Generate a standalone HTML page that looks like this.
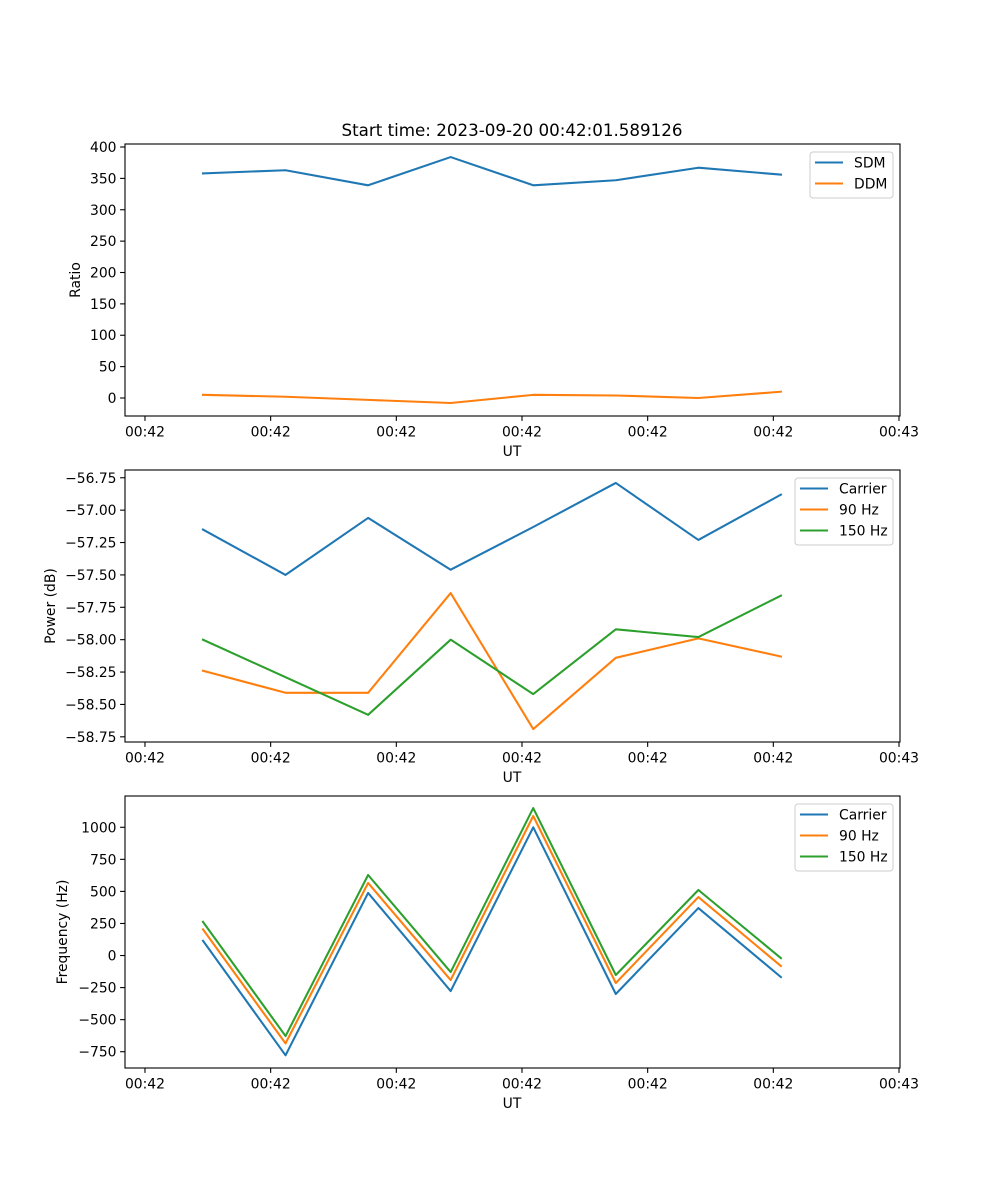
<!DOCTYPE html>
<html><head><meta charset="utf-8"><style>
html,body{margin:0;padding:0;background:#fff}
svg{display:block;font-family:"DejaVu Sans","Liberation Sans",sans-serif}
</style></head><body>
<svg id="fig" width="1000" height="1200" viewBox="0 0 1000 1200">
<rect width="1000" height="1200" fill="#fff"/>
<text x="512" y="136" font-size="16.7" text-anchor="middle" fill="#000">Start time: 2023-09-20 00:42:01.589126</text>
</svg>
<script>
// shared x data (tick units)
const times = [0.4615, 1.1185, 1.7755, 2.4325, 3.0895, 3.7465, 4.4035, 5.0605];
const xTicks = [0, 1, 2, 3, 4, 5, 6];
const xTickLabels = ["00:42","00:42","00:42","00:42","00:42","00:42","00:43"];
// panel 1
const sdm = [358, 363, 339, 384, 339, 347, 367, 356];
const ddm = [5, 2, -3, -8, 5, 4, 0, 10];
const ratioTicks = [0, 50, 100, 150, 200, 250, 300, 350, 400];
// panel 2
const powCarrier = [-57.15, -57.5, -57.06, -57.46, -57.13, -56.79, -57.23, -56.88];
const pow90 = [-58.24, -58.41, -58.41, -57.64, -58.69, -58.14, -57.99, -58.13];
const pow150 = [-58.0, -58.29, -58.58, -58.0, -58.42, -57.92, -57.98, -57.66];
const powTicks = [-58.75, -58.5, -58.25, -58.0, -57.75, -57.5, -57.25, -57.0, -56.75];
const powTickLabels = ["\u221258.75","\u221258.50","\u221258.25","\u221258.00","\u221257.75","\u221257.50","\u221257.25","\u221257.00","\u221256.75"];
// panel 3
const freqCarrier = [115, -778, 488, -277, 1000, -300, 370, -168];
const freq90 = [204, -685, 566, -191, 1088, -214, 456, -82];
const freq150 = [263, -628, 628, -129, 1150, -152, 511, -20];
const freqTicks = [-750, -500, -250, 0, 250, 500, 750, 1000];

const NS = "http://www.w3.org/2000/svg";
const svg = document.getElementById("fig");
const C = {blue:"#1f77b4", orange:"#ff7f0e", green:"#2ca02c"};
const FS = 13.9;
const X0 = 125, X1 = 900, xMin = -0.159, xMax = 6.008;
function xs(v){ return X0 + (v - xMin) / (xMax - xMin) * (X1 - X0); }
function mk(tag, attrs, parent){
  const e = document.createElementNS(NS, tag);
  for (const k in attrs) e.setAttribute(k, attrs[k]);
  (parent || svg).appendChild(e);
  return e;
}
function fmt(v){ return v < 0 ? "\u2212" + Math.abs(v) : String(v); }

function panel(name, top, bottom, yMin, yMax, yTicks, yLabels, ylabel, ylabelX, series, legend){
  const g = mk("g", {});
  
  
  const ys = v => bottom - (v - yMin) / (yMax - yMin) * (bottom - top);
  const cp = mk("clipPath", {id: "clip-" + name}, g);
  mk("rect", {x: X0, y: top, width: X1 - X0, height: bottom - top}, cp);
  const lines = mk("g", {"clip-path": "url(#clip-" + name + ")"}, g);
  series.forEach(s => {
    const p = mk("polyline", {points: times.map((t, i) => xs(t).toFixed(2) + "," + ys(s.vals[i]).toFixed(2)).join(" "), fill: "none", stroke: s.color, "stroke-width": 2.08, "stroke-linejoin": "round", "stroke-linecap": "square"}, lines);
    
    
  });
  const frame = mk("rect", {x: X0, y: top, width: X1 - X0, height: bottom - top, fill: "none", stroke: "#000", "stroke-width": 1.1}, g);
  
  
  xTicks.forEach((t, i) => {
    const x = xs(t);
    mk("line", {x1: x, x2: x, y1: bottom, y2: bottom + 4.9, stroke: "#000", "stroke-width": 1.1}, g);
    const tx = mk("text", {x: x, y: bottom + 20.5, "font-size": FS, "text-anchor": "middle"}, g);
    tx.textContent = xTickLabels[i];
    
    
  });
  yTicks.forEach((t, i) => {
    const y = ys(t);
    mk("line", {x1: X0, x2: X0 - 4.9, y1: y, y2: y, stroke: "#000", "stroke-width": 1.1}, g);
    const tx = mk("text", {x: X0 - 8.5, y: y + 5, "font-size": FS, "text-anchor": "end"}, g);
    tx.textContent = yLabels ? yLabels[i] : fmt(t);
    
    
  });
  const xl = mk("text", {x: 512, y: bottom + 40, "font-size": FS, "text-anchor": "middle"}, g);
  xl.textContent = "UT";
  
  
  const cy = (top + bottom) / 2;
  const yl = mk("text", {x: ylabelX, y: cy, "font-size": FS, "text-anchor": "middle", transform: "rotate(-90 " + ylabelX + " " + cy + ")"}, g);
  yl.textContent = ylabel;
  
  
  const lg = mk("g", {}, g);
  
  
  mk("rect", {x: legend.x, y: top + 8, width: X1 - 7 - legend.x, height: series.length * 21 + 4, rx: 3, fill: "#fff", "fill-opacity": 0.8, stroke: "#ccc", "stroke-width": 1}, lg);
  series.forEach((s, i) => {
    const yy = top + 18.5 + i * 21;
    mk("line", {x1: legend.x + 5, x2: legend.x + 33, y1: yy, y2: yy, stroke: s.color, "stroke-width": 2.08}, lg);
    const tx = mk("text", {x: legend.x + 44, y: yy + 5, "font-size": FS}, lg);
    tx.textContent = s.label;
    
    
  });
}

panel("ratio", 144, 416, -28.7, 404.8, ratioTicks, null, "Ratio", 80,
  [{id:"sdm", label:"SDM", vals: sdm, color: C.blue},{id:"ddm", label:"DDM", vals: ddm, color: C.orange}], {x: 810});
panel("power", 470, 742, -58.79, -56.69, powTicks, powTickLabels, "Power (dB)", 55,
  [{id:"carrier", label:"Carrier", vals: powCarrier, color: C.blue},{id:"90hz", label:"90 Hz", vals: pow90, color: C.orange},{id:"150hz", label:"150 Hz", vals: pow150, color: C.green}], {x: 795});
panel("frequency", 796, 1068, -877, 1244, freqTicks, null, "Frequency (Hz)", 67,
  [{id:"carrier", label:"Carrier", vals: freqCarrier, color: C.blue},{id:"90hz", label:"90 Hz", vals: freq90, color: C.orange},{id:"150hz", label:"150 Hz", vals: freq150, color: C.green}], {x: 795});
</script>
</body></html>
